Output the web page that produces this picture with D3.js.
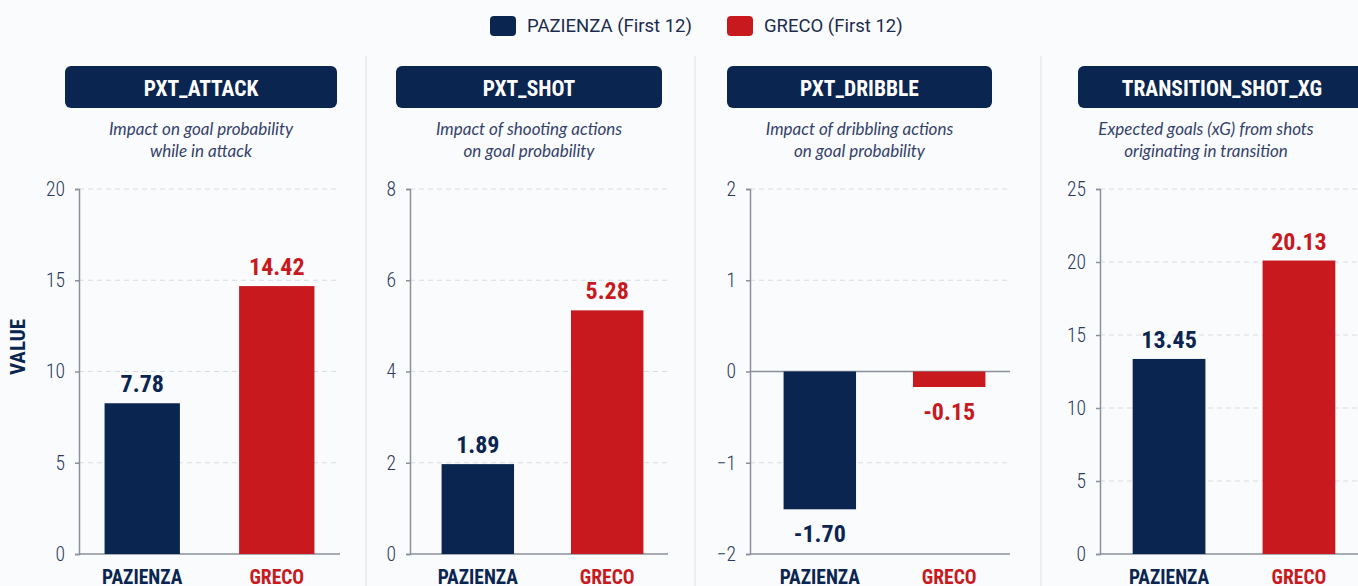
<!DOCTYPE html>
<html>
<head>
<meta charset="utf-8">
<script src="https://cdn.jsdelivr.net/npm/d3@7"></script>
<style>
    html, body { margin: 0; padding: 0; background: #fafbfc; }
    #chart { width: 1358px; height: 586px; overflow: hidden; }
    .cond { font-family: "Roboto Condensed", "Liberation Sans Narrow", "DejaVu Sans Condensed", "Arial Narrow", sans-serif; font-stretch: condensed; }
</style>
</head>
<body>
<div id="chart"></div>
<script>
// Data
const players = ['PAZIENZA', 'GRECO'];
const legendLabels = ['PAZIENZA (First 12)', 'GRECO (First 12)'];
const metrics = ['PXT_ATTACK', 'PXT_SHOT', 'PXT_DRIBBLE', 'TRANSITION_SHOT_XG'];
const subtitles = [
    ['Impact on goal probability', 'while in attack'],
    ['Impact of shooting actions', 'on goal probability'],
    ['Impact of dribbling actions', 'on goal probability'],
    ['Expected goals (xG) from shots', 'originating in transition']
];
// printed values above/below the bars
const pazienzaLabels = [7.78, 1.89, -1.70, 13.45];
const grecoLabels = [14.42, 5.28, -0.15, 20.13];
// bar lengths as drawn in the chart
const pazienzaBars = [8.26, 1.97, -1.51, 13.36];
const grecoBars = [14.68, 5.34, -0.17, 20.1];
const yDomains = [[0, 20], [0, 8], [-2, 2], [0, 25]];
const yTicks = [[0, 5, 10, 15, 20], [0, 2, 4, 6, 8], [-2, -1, 0, 1, 2], [0, 5, 10, 15, 20, 25]];

// Layout (per panel)
const panels = [
    { axisX: 79, bandLeft: 79, bandRight: 340, headerX: 65, headerW: 272 },
    { axisX: 410, bandLeft: 417, bandRight: 668, headerX: 396, headerW: 266 },
    { axisX: 750, bandLeft: 759, bandRight: 1010, headerX: 727, headerW: 265 },
    { axisX: 1100, bandLeft: 1108, bandRight: 1360, headerX: 1078, headerW: 288 }
];
const separators = [366, 695, 1041];

const colors = { PAZIENZA: '#0a2550', GRECO: '#c8191e' };
const textColor = '#2b3a5e';
const plotTop = 189, plotBottom = 554;

const svg = d3.select('#chart')
    .append('svg')
    .attr('width', 1358)
    .attr('height', 586);

// Panel separators
svg.selectAll('.sep')
    .data(separators)
    .enter()
    .append('line')
    .attr('x1', d => d).attr('x2', d => d)
    .attr('y1', 56).attr('y2', 586)
    .attr('stroke', '#e6e9ee')
    .attr('stroke-width', 1.5);

// Legend
const legend = svg.append('g');
const legendX = [490, 727];
players.forEach((p, i) => {
    legend.append('rect')
        .attr('x', legendX[i]).attr('y', 16)
        .attr('width', 26).attr('height', 20)
        .attr('rx', 4)
        .attr('fill', colors[p]);
    legend.append('text')
        .attr('x', legendX[i] + 37).attr('y', 32)
        .attr('font-family', 'Roboto, sans-serif')
        .attr('font-size', 18.5)
        .attr('fill', '#1c2b4d')
        .text(legendLabels[i]);
});

// Y axis title
svg.append('text')
    .attr('class', 'cond')
    .attr('transform', 'translate(25,347) rotate(-90)')
    .attr('text-anchor', 'middle')
    .attr('font-size', 21)
    .attr('font-weight', 700)
    .attr('fill', colors.PAZIENZA)
    .text('VALUE');

metrics.forEach((metric, idx) => {
    const L = panels[idx];
    const g = svg.append('g').attr('class', 'panel');
    const bars = [pazienzaBars[idx], grecoBars[idx]];
    const labels = [pazienzaLabels[idx], grecoLabels[idx]];

    // Header
    g.append('rect')
        .attr('x', L.headerX).attr('y', 66)
        .attr('width', L.headerW).attr('height', 42)
        .attr('rx', 6)
        .attr('fill', '#0a2550');
    g.append('text')
        .attr('class', 'cond')
        .attr('x', L.headerX + L.headerW / 2)
        .attr('y', 95.5)
        .attr('text-anchor', 'middle')
        .attr('font-size', 21.5)
        .attr('font-weight', 700)
        .attr('fill', '#ffffff')
        .text(metric);

    // Subtitle
    subtitles[idx].forEach((line, li) => {
        g.append('text')
            .attr('x', L.headerX + L.headerW / 2 + (idx === 3 ? -16 : 0))
            .attr('y', 134.5 + li * 22)
            .attr('text-anchor', 'middle')
            .attr('font-family', 'Lato, "Open Sans", sans-serif')
            .attr('font-style', 'italic')
            .attr('font-size', 17)
            .attr('fill', '#34426a')
            .text(line);
    });

    // Scales
    const x = d3.scaleBand()
        .domain(players)
        .range([L.bandLeft, L.bandRight])
        .paddingInner(0.44)
        .paddingOuter(0.19);

    const y = d3.scaleLinear()
        .domain(yDomains[idx])
        .range([plotBottom, plotTop]);

    // Grid lines
    g.selectAll('.grid')
        .data(yTicks[idx].filter(t => t !== yDomains[idx][0] && t !== 0))
        .enter()
        .append('line')
        .attr('x1', L.axisX).attr('x2', L.bandRight)
        .attr('y1', d => y(d)).attr('y2', d => y(d))
        .attr('stroke', '#d8dce3')
        .attr('stroke-width', 1)
        .attr('stroke-dasharray', '5,4');

    // Y axis
    const yAxis = d3.axisLeft(y)
        .tickValues(yTicks[idx])
        .tickSize(4)
        .tickPadding(10)
        .tickFormat(d3.format('d'));
    const ax = g.append('g')
        .attr('transform', `translate(${L.axisX},0)`)
        .call(yAxis);
    ax.select('.domain').attr('stroke', '#8b919c').attr('stroke-width', 1.5);
    ax.selectAll('.tick line').attr('stroke', '#8b919c').attr('stroke-width', 1.5);
    ax.selectAll('.tick text')
        .attr('class', 'cond')
        .attr('font-size', 19.5)
        .attr('font-weight', 300)
        .attr('fill', textColor);

    // Baseline (bottom) and zero line
    g.append('line')
        .attr('x1', L.axisX).attr('x2', L.bandRight)
        .attr('y1', plotBottom).attr('y2', plotBottom)
        .attr('stroke', '#8b919c').attr('stroke-width', 1.5);
    if (yDomains[idx][0] < 0) {
        g.append('line')
            .attr('x1', L.axisX).attr('x2', L.bandRight)
            .attr('y1', y(0)).attr('y2', y(0))
            .attr('stroke', '#8b919c').attr('stroke-width', 1.5);
    }

    // Bars
    g.selectAll('.bar')
        .data(players)
        .enter()
        .append('rect')
        .attr('x', d => x(d))
        .attr('width', x.bandwidth())
        .attr('y', (d, i) => y(Math.max(0, bars[i])))
        .attr('height', (d, i) => Math.abs(y(bars[i]) - y(0)))
        .attr('fill', d => colors[d]);

    // Value labels
    g.selectAll('.val')
        .data(players)
        .enter()
        .append('text')
        .attr('class', 'cond')
        .attr('x', d => x(d) + x.bandwidth() / 2)
        .attr('y', (d, i) => bars[i] >= 0 ? y(bars[i]) - 11 : y(bars[i]) + 33)
        .attr('text-anchor', 'middle')
        .attr('font-size', 24)
        .attr('font-weight', 700)
        .attr('fill', d => colors[d])
        .text((d, i) => labels[i].toFixed(2));

    // Category labels
    g.selectAll('.cat')
        .data(players)
        .enter()
        .append('text')
        .attr('class', 'cond')
        .attr('x', d => x(d) + x.bandwidth() / 2)
        .attr('y', 584)
        .attr('text-anchor', 'middle')
        .attr('font-size', 19.5)
        .attr('font-weight', 700)
        .attr('fill', d => colors[d])
        .text(d => d);
});
</script>
</body>
</html>
